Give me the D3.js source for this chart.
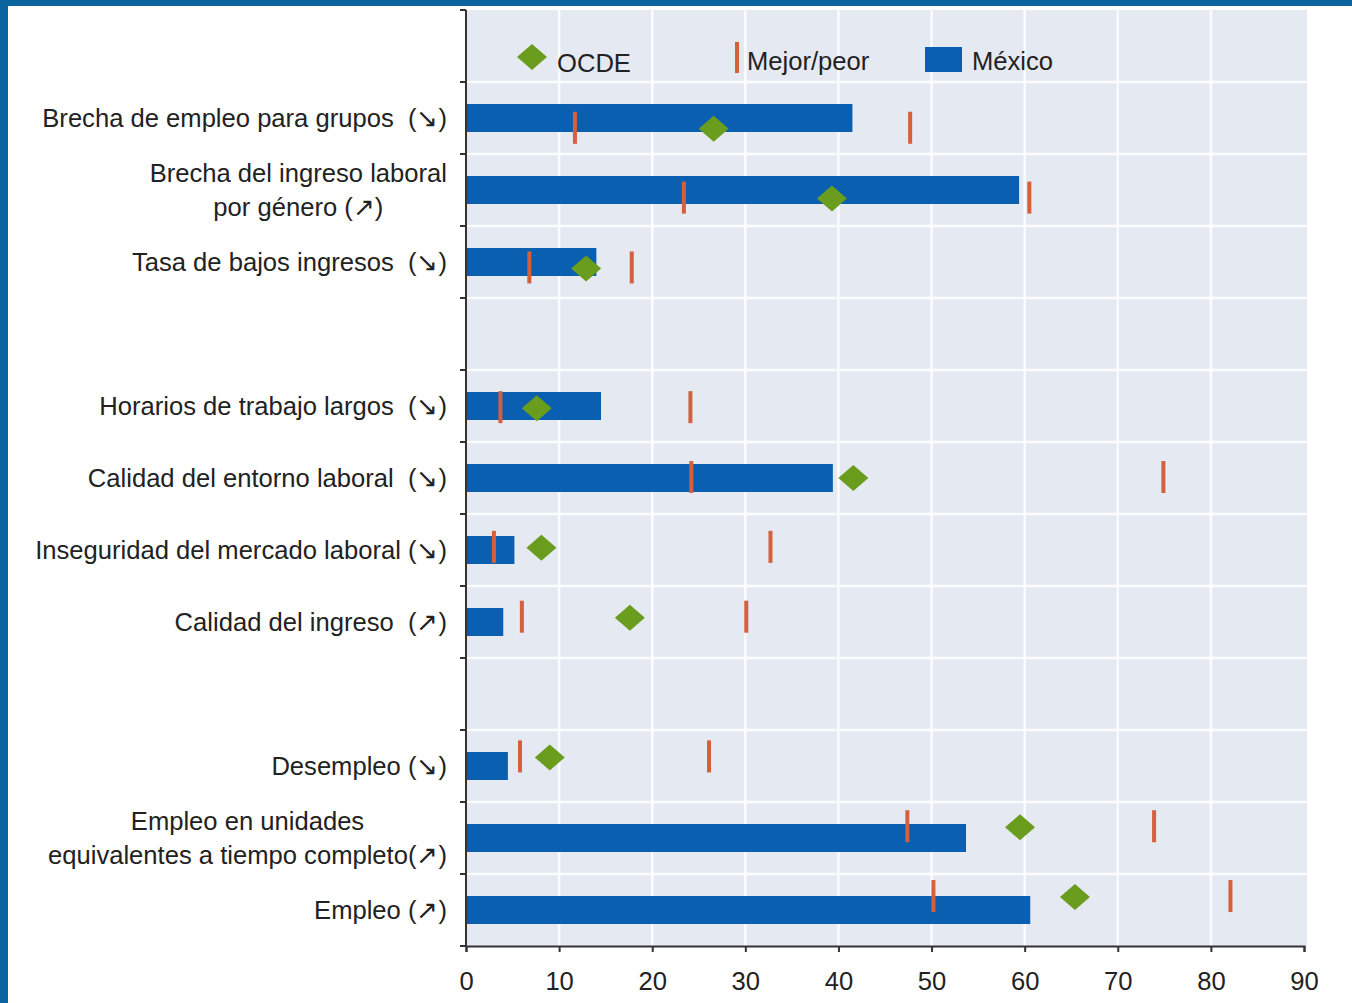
<!DOCTYPE html>
<html><head><meta charset="utf-8">
<script src="https://cdn.jsdelivr.net/npm/d3@7/dist/d3.min.js"></script>
<style>
html,body{margin:0;padding:0;background:#fff;}
svg{display:block;font-family:"Liberation Sans",Arial,sans-serif;}
text{white-space:pre;}
</style></head>
<body><svg id="c" width="1352" height="1003"></svg>
<script>
// Rows top to bottom ("gap" = empty spacer row, first row holds the legend)
const rows = ["legend",
  "Brecha de empleo para grupos  (↘)",
  "Brecha del ingreso laboral\npor género (↗)",
  "Tasa de bajos ingresos  (↘)",
  "gap1",
  "Horarios de trabajo largos  (↘)",
  "Calidad del entorno laboral  (↘)",
  "Inseguridad del mercado laboral (↘)",
  "Calidad del ingreso  (↗)",
  "gap2",
  "Desempleo (↘)",
  "Empleo en unidades\nequivalentes a tiempo completo(↗)",
  "Empleo (↗)"];
const categories = rows.filter(r => r !== "legend" && !r.startsWith("gap"));
const mexico = [41.5, 59.4, 14.0, 14.5, 39.4, 5.2, 4.0, 4.5, 53.7, 60.6];
const ocde   = [26.6, 39.3, 12.9, 7.6, 41.6, 8.1, 17.6, 9.0, 59.5, 65.4];
const mejor  = [11.7, 23.4, 6.8, 3.7, 24.2, 3.0, 6.0, 5.8, 47.4, 50.2];
const peor   = [47.7, 60.5, 17.8, 24.1, 74.9, 32.7, 30.1, 26.1, 73.9, 82.1];
const xTicks = [0,10,20,30,40,50,60,70,80,90];
const legendLabels = ["OCDE", "Mejor/peor", "México"];

(function(){
const svg = d3.select("#c");
const W = 1352, H = 1003;
const pL = 466, pR = 1304, pT = 10, pB = 946;
const blue = "#0a5fb0", green = "#6a9c1e", red = "#d65f3c";
const FS = 25.6;

// frame
svg.append("rect").attr("x",0).attr("y",0).attr("width",W).attr("height",6).attr("fill","#0b63a0");
svg.append("rect").attr("x",0).attr("y",0).attr("width",8).attr("height",H).attr("fill","#0b63a0");

const x = d3.scaleLinear().domain([0,90]).range([pL,pR]);
const y = d3.scaleBand().domain(rows).range([pT,pB]).paddingInner(0).paddingOuter(0);
// the marker series sit on a slightly different vertical scale in the source
const y2 = d3.scaleBand().domain(rows).range([23,931]).paddingInner(0).paddingOuter(0);

// plot background
svg.append("rect").attr("x",pL).attr("y",pT).attr("width",pR-pL+3).attr("height",pB-pT).attr("fill","#e5e9f2");

// grid
const g = svg.append("g");
g.selectAll("line.v").data(xTicks.slice(1,-1)).join("line")
  .attr("x1",d=>x(d)).attr("x2",d=>x(d)).attr("y1",pT).attr("y2",pB)
  .attr("stroke","#fafcff").attr("stroke-width",2.5);
g.selectAll("line.h").data(rows.slice(1)).join("line")
  .attr("x1",pL).attr("x2",pR+3).attr("y1",d=>y(d)).attr("y2",d=>y(d))
  .attr("stroke","#fafcff").attr("stroke-width",2.5);

const data = categories.map((c,i)=>({c, m:mexico[i], o:ocde[i], b:mejor[i], w:peor[i]}));
const bh = 28;
const cyOf = c => y(c)+y.bandwidth()/2;
const cy2Of = c => y2(c)+y2.bandwidth()/2;

// bars
svg.append("g").selectAll("rect").data(data).join("rect")
  .attr("x",x(0)).attr("y",d=>cyOf(d.c)-bh/2)
  .attr("width",d=>x(d.m)-x(0)).attr("height",bh).attr("fill",blue);

// best/worst marks
const marks = data.flatMap(d=>[{c:d.c,v:d.b},{c:d.c,v:d.w}]);
svg.append("g").selectAll("rect").data(marks).join("rect")
  .attr("x",d=>x(d.v)-2).attr("y",d=>cy2Of(d.c)-16)
  .attr("width",4).attr("height",32).attr("fill",red);

// OCDE diamonds
const diamond = (cx,cy,rw,rh)=>`M${cx},${cy-rh}L${cx+rw},${cy}L${cx},${cy+rh}L${cx-rw},${cy}Z`;
svg.append("g").selectAll("path").data(data).join("path")
  .attr("d",d=>diamond(x(d.o), cy2Of(d.c)+1, 15, 13)).attr("fill",green);

// axes
const xa = svg.append("g").attr("transform",`translate(0,${pB})`)
  .call(d3.axisBottom(x).tickValues(xTicks).tickSize(6).tickSizeOuter(6).tickPadding(20));
xa.select(".domain").attr("stroke","#333").attr("stroke-width",2);
xa.selectAll(".tick line").attr("stroke","#333").attr("stroke-width",2);
xa.selectAll("text").attr("font-size",FS).attr("fill","#222").attr("font-family","Liberation Sans, Arial, sans-serif");

const ya = svg.append("g").attr("transform",`translate(${pL},0)`);
ya.append("line").attr("x1",0).attr("x2",0).attr("y1",pT).attr("y2",pB).attr("stroke","#333").attr("stroke-width",2);
ya.selectAll("line.t").data(d3.range(rows.length+1)).join("line")
  .attr("x1",-6).attr("x2",0)
  .attr("y1",i=>pT+i*y.step()).attr("y2",i=>pT+i*y.step())
  .attr("stroke","#333").attr("stroke-width",2);

// category labels
const lab = svg.append("g");
categories.forEach(c=>{
  const lines = c.split("\n");
  const cy = cyOf(c);
  const t = lab.append("text").attr("font-size",FS).attr("fill","#222");
  if(lines.length===1){
    t.attr("text-anchor","end").attr("x",447).attr("y",cy+9).text(c);
  } else {
    t.attr("text-anchor","middle");
    const lh = 34;
    lines.forEach((l,i)=>{
      t.append("tspan").attr("x",0).attr("y", cy + 9 + (i-0.5)*lh).text(l);
    });
    const w = Math.max(...t.selectAll("tspan").nodes().map(n=>n.getComputedTextLength()));
    t.selectAll("tspan").attr("x", 447 - w/2);
  }
});

// legend
const ly = cyOf("legend");
const leg = svg.append("g");
leg.append("path").attr("d",diamond(532, ly+11, 15, 13)).attr("fill",green);
leg.append("text").attr("x",557).attr("y",ly+26).attr("font-size",FS).attr("fill","#222").text(legendLabels[0]);
leg.append("rect").attr("x",735).attr("y",ly-4).attr("width",4).attr("height",31).attr("fill",red);
leg.append("text").attr("x",747).attr("y",ly+24).attr("font-size",FS).attr("fill","#222").text(legendLabels[1]);
leg.append("rect").attr("x",925).attr("y",ly+1).attr("width",37).attr("height",25).attr("fill",blue);
leg.append("text").attr("x",972).attr("y",ly+24).attr("font-size",FS).attr("fill","#222").text(legendLabels[2]);
})();
</script></body></html>
